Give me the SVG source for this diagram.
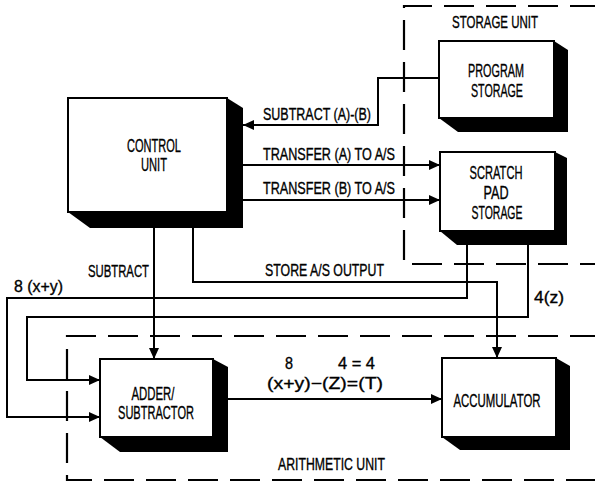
<svg xmlns="http://www.w3.org/2000/svg" width="595" height="487" viewBox="0 0 595 487">
<style>
.bg{fill:#fff}
.face{fill:#fff;stroke:#000;stroke-width:2}
.shadow{fill:#000}
.ln{fill:none;stroke:#000;stroke-width:2}
.dash{fill:none;stroke:#000;stroke-width:2.2;stroke-dasharray:30 12}
text{font-family:"Liberation Sans",Arial,sans-serif;font-size:16.5px;fill:#000;stroke:#000;stroke-width:0.35}
.lbl{font-size:18px;text-anchor:middle}
</style>
<defs>
<marker id="ah" markerUnits="userSpaceOnUse" markerWidth="12" markerHeight="11" refX="11" refY="5" orient="auto">
<path d="M0,0 L11,5 L0,10 Z" fill="#000"/>
</marker>
</defs>
<rect class="bg" x="0" y="0" width="595" height="487"/>

<g id="storage-unit">
<path class="dash" d="M600,6 H404 V264 H600"/>
<text x="452" y="28" textLength="86" lengthAdjust="spacingAndGlyphs">STORAGE UNIT</text>
</g>
<g id="arithmetic-unit">
<path class="dash" d="M600,336 H67 V480 H600"/>
<text x="278" y="470" textLength="107" lengthAdjust="spacingAndGlyphs">ARITHMETIC UNIT</text>
</g>

<g id="control-unit">
<polygon class="shadow" points="227,98 243,108 243,228 90,228 68,212"/>
<rect class="face" x="68" y="98" width="159" height="114"/>
<text class="lbl" x="154" y="152" textLength="54" lengthAdjust="spacingAndGlyphs">CONTROL</text>
<text class="lbl" x="154" y="171" textLength="26" lengthAdjust="spacingAndGlyphs">UNIT</text>
</g>

<g id="program-storage">
<polygon class="shadow" points="554,41 568,50 568,132 458,132 439,118"/>
<rect class="face" x="439" y="41" width="115" height="77"/>
<text class="lbl" x="496" y="77" textLength="56" lengthAdjust="spacingAndGlyphs">PROGRAM</text>
<text class="lbl" x="497" y="97" textLength="52" lengthAdjust="spacingAndGlyphs">STORAGE</text>
</g>

<g id="scratch-pad-storage">
<polygon class="shadow" points="555,152 567,158 567,245 457,245 440,231"/>
<rect class="face" x="440" y="152" width="115" height="79"/>
<text class="lbl" x="496" y="179" textLength="53" lengthAdjust="spacingAndGlyphs">SCRATCH</text>
<text class="lbl" x="496" y="199" textLength="25" lengthAdjust="spacingAndGlyphs">PAD</text>
<text class="lbl" x="497" y="219" textLength="51" lengthAdjust="spacingAndGlyphs">STORAGE</text>
</g>

<g id="adder-subtractor">
<polygon class="shadow" points="213,359 228,367 228,452 120,452 100,437"/>
<rect class="face" x="100" y="359" width="113" height="78"/>
<text class="lbl" x="153" y="400" textLength="43" lengthAdjust="spacingAndGlyphs">ADDER/</text>
<text class="lbl" x="156" y="419" textLength="76" lengthAdjust="spacingAndGlyphs">SUBTRACTOR</text>
</g>

<g id="accumulator">
<polygon class="shadow" points="556,358 570,366 570,450 460,450 442,437"/>
<rect class="face" x="442" y="358" width="114" height="79"/>
<text class="lbl" x="497" y="407" textLength="87" lengthAdjust="spacingAndGlyphs">ACCUMULATOR</text>
</g>

<g id="connectors">
<path class="ln" d="M439,78 H378 V125 H243" marker-end="url(#ah)"/>
<path class="ln" d="M243,165 H440" marker-end="url(#ah)"/>
<path class="ln" d="M243,200 H440" marker-end="url(#ah)"/>
<path class="ln" d="M154,228 V359" marker-end="url(#ah)"/>
<path class="ln" d="M193,228 V282 H497 V358" marker-end="url(#ah)"/>
<path class="ln" d="M467,245 V298 H7 V417 H100" marker-end="url(#ah)"/>
<path class="ln" d="M528,245 V317 H27 V380 H100" marker-end="url(#ah)"/>
<path class="ln" d="M228,399 H442" marker-end="url(#ah)"/>
<text x="263" y="120" textLength="108" lengthAdjust="spacingAndGlyphs">SUBTRACT (A)-(B)</text>
<text x="263" y="160" textLength="132" lengthAdjust="spacingAndGlyphs">TRANSFER (A) TO A/S</text>
<text x="263" y="194" textLength="132" lengthAdjust="spacingAndGlyphs">TRANSFER (B) TO A/S</text>
<text x="88" y="277" textLength="61" lengthAdjust="spacingAndGlyphs">SUBTRACT</text>
<text x="265" y="276" textLength="119" lengthAdjust="spacingAndGlyphs">STORE A/S OUTPUT</text>
<text x="14" y="292" textLength="49" lengthAdjust="spacingAndGlyphs">8 (x+y)</text>
<text x="534" y="303" textLength="30" lengthAdjust="spacingAndGlyphs">4(z)</text>
<text x="285" y="369" textLength="8" lengthAdjust="spacingAndGlyphs">8</text>
<text x="338" y="369" textLength="37" lengthAdjust="spacingAndGlyphs">4 = 4</text>
<text x="267" y="389" textLength="116" lengthAdjust="spacingAndGlyphs">(x+y)−(Z)=(T)</text>
</g>
</svg>
